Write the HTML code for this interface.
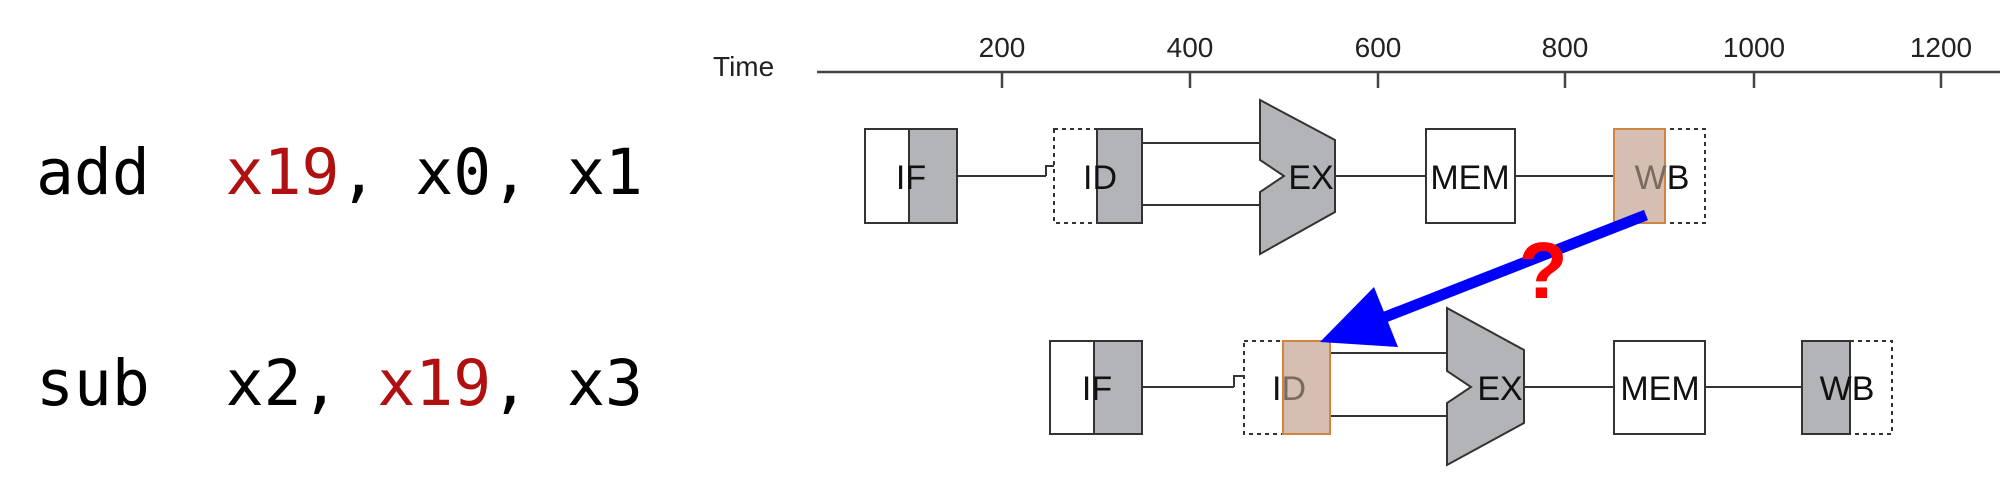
<!DOCTYPE html>
<html><head><meta charset="utf-8"><style>
html,body{margin:0;padding:0;background:#fff;}
svg{display:block;}
</style></head><body>
<svg width="2000" height="483" viewBox="0 0 2000 483" xmlns="http://www.w3.org/2000/svg">
<g font-family="DejaVu Sans Mono, Liberation Mono, monospace" font-size="63">
<text x="36" y="194" fill="#000" xml:space="preserve">add  <tspan fill="#b01010">x19</tspan>, x0, x1</text>
<text x="36" y="405" fill="#000" xml:space="preserve">sub  x2, <tspan fill="#b01010">x19</tspan>, x3</text>
</g>
<g font-family="Liberation Sans, Arial, sans-serif" fill="#222">
<text x="713" y="76" font-size="28">Time</text>
<g font-size="28" text-anchor="middle">
<text x="1002" y="57">200</text><text x="1190" y="57">400</text><text x="1378" y="57">600</text>
<text x="1565" y="57">800</text><text x="1754" y="57">1000</text><text x="1941" y="57">1200</text>
</g>
</g>
<g stroke="#444" stroke-width="2.5">
<line x1="817" y1="72" x2="2000" y2="72"/>
<line x1="1002" y1="72" x2="1002" y2="88"/><line x1="1190" y1="72" x2="1190" y2="88"/>
<line x1="1378" y1="72" x2="1378" y2="88"/><line x1="1565" y1="72" x2="1565" y2="88"/>
<line x1="1754" y1="72" x2="1754" y2="88"/><line x1="1941" y1="72" x2="1941" y2="88"/>
</g>

<g stroke="#333" stroke-width="2" font-family="Liberation Sans Narrow, Liberation Sans, Arial, sans-serif" font-size="34">
<line x1="957" y1="176" x2="1046" y2="176"/>
<path d="M1046 176 V166 H1054" fill="none"/>
<line x1="1142" y1="143" x2="1262" y2="143"/>
<line x1="1142" y1="205" x2="1262" y2="205"/>
<line x1="1335" y1="176" x2="1426" y2="176"/>
<line x1="1515" y1="176" x2="1614" y2="176"/>
<rect x="865" y="129" width="92" height="94" fill="#fff"/>
<rect x="909" y="129" width="48" height="94" fill="#b3b4b8"/>
<rect x="1054" y="129" width="88" height="94" fill="#fff" stroke-dasharray="4 4"/>
<rect x="1097" y="129" width="45" height="94" fill="#b3b4b8"/>
<path d="M1260 100 L1335 140 L1335 212 L1260 254 L1260 192 L1284 176 L1260 160 Z" fill="#b3b4b8"/>
<rect x="1426" y="129" width="89" height="94" fill="#fff"/>
<rect x="1614" y="129" width="91" height="94" fill="#fff" stroke-dasharray="4 4"/>
<rect x="1614" y="129" width="51" height="94" fill="#d4bfb2" stroke="#d0843f"/>
<g stroke="none" fill="#111" text-anchor="middle">
<text x="911" y="189">IF</text><text x="1100" y="189">ID</text>
<text x="1311" y="189">EX</text><text x="1470" y="189">MEM</text>
<text x="1662" y="189"><tspan fill="#7a6a60">W</tspan>B</text>
</g>

<line x1="1142" y1="387" x2="1234" y2="387"/>
<path d="M1234 387 V376 H1244" fill="none"/>
<line x1="1330" y1="353" x2="1447" y2="353"/>
<line x1="1330" y1="416" x2="1447" y2="416"/>
<line x1="1524" y1="387" x2="1614" y2="387"/>
<line x1="1705" y1="387" x2="1802" y2="387"/>
<rect x="1050" y="341" width="92" height="93" fill="#fff"/>
<rect x="1094" y="341" width="48" height="93" fill="#b3b4b8"/>
<rect x="1244" y="341" width="86" height="93" fill="#fff" stroke-dasharray="4 4"/>
<rect x="1283" y="341" width="47" height="93" fill="#d4bfb2" stroke="#d0843f"/>
<path d="M1447 308 L1524 350 L1524 423 L1447 465 L1447 403 L1471 387 L1447 371 Z" fill="#b3b4b8"/>
<rect x="1614" y="341" width="91" height="93" fill="#fff"/>
<rect x="1802" y="341" width="90" height="93" fill="#fff" stroke-dasharray="4 4"/>
<rect x="1802" y="341" width="48" height="93" fill="#b3b4b8"/>
<g stroke="none" fill="#111" text-anchor="middle">
<text x="1097" y="400">IF</text><text x="1289" y="400">I<tspan fill="#7a6a60">D</tspan></text>
<text x="1500" y="400">EX</text><text x="1660" y="400">MEM</text>
<text x="1847" y="400">WB</text>
</g>
</g>

<line x1="1646" y1="215" x2="1380" y2="319" stroke="#0000ff" stroke-width="11"/>
<polygon points="1320,342 1374,287 1398,347" fill="#0000ff"/>
<text x="1543" y="298" font-family="Liberation Sans, Arial, sans-serif" font-weight="bold" font-size="80" fill="#ff0000" text-anchor="middle">?</text>
</svg>
</body></html>
